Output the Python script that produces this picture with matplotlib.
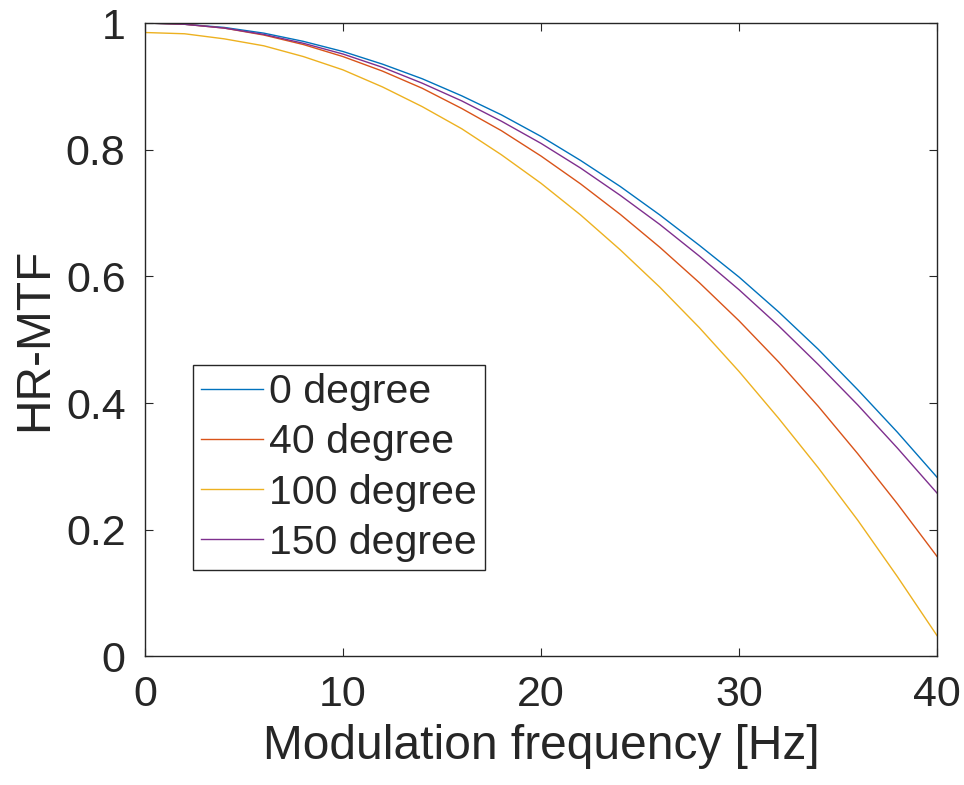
import matplotlib
matplotlib.use("Agg")
import matplotlib.pyplot as plt

plt.rcParams['font.family'] = ['Liberation Sans', 'DejaVu Sans']

freq = [0, 2, 4, 6, 8, 10, 12, 14, 16, 18, 20, 22, 24, 26, 28, 30, 32, 34, 36, 38, 40]
mtf_0 = [1.000, 0.998, 0.993, 0.984, 0.971, 0.955, 0.935, 0.912, 0.885, 0.855, 0.821,
         0.783, 0.742, 0.697, 0.649, 0.599, 0.544, 0.485, 0.421, 0.354, 0.283]
mtf_40 = [1.000, 0.998, 0.992, 0.981, 0.966, 0.947, 0.924, 0.897, 0.865, 0.830, 0.790,
          0.746, 0.698, 0.646, 0.590, 0.530, 0.465, 0.395, 0.320, 0.241, 0.158]
mtf_100 = [0.985, 0.983, 0.975, 0.964, 0.947, 0.926, 0.899, 0.868, 0.833, 0.792, 0.747,
           0.697, 0.642, 0.583, 0.519, 0.450, 0.376, 0.298, 0.215, 0.126, 0.033]
mtf_150 = [1.000, 0.998, 0.992, 0.982, 0.968, 0.951, 0.930, 0.905, 0.877, 0.845, 0.810,
           0.771, 0.728, 0.682, 0.632, 0.579, 0.522, 0.461, 0.397, 0.329, 0.258]
labels = ['0 degree', '40 degree', '100 degree', '150 degree']
colors = ['#0072BD', '#D95319', '#EDB120', '#7E2F8E']
xticks = [0, 10, 20, 30, 40]
yticks = [0, 0.2, 0.4, 0.6, 0.8, 1.0]
yticklabels = ['0', '0.2', '0.4', '0.6', '0.8', '1']

fig = plt.figure(figsize=(9.64, 7.85), dpi=100)
ax = fig.add_axes([0.1504, 0.1637, 0.8216, 0.807])

for ys, lab, c in zip([mtf_0, mtf_40, mtf_100, mtf_150], labels, colors):
    ax.plot(freq, ys, color=c, lw=1.0, label=lab)

ax.set_xlim(0, 40)
ax.set_ylim(0, 1)
ax.set_xticks(xticks)
ax.set_xticklabels([str(t) for t in xticks])
ax.set_yticks(yticks)
ax.set_yticklabels(yticklabels)
ax.tick_params(direction='in', length=6, width=0.8, top=True, right=True,
               labelsize=31, colors='#262626')
ax.tick_params(axis='x', pad=13)
ax.tick_params(axis='y', pad=14)
for s in ax.spines.values():
    s.set_color('#262626')
    s.set_linewidth(1.0)

ax.set_xlabel('Modulation frequency [Hz]', fontsize=34.5, color='#262626', labelpad=7)
ax.set_ylabel('HR-MTF', fontsize=34.5, color='#262626', labelpad=6)

leg = ax.legend(loc='lower left', bbox_to_anchor=(0.0606, 0.1365), borderaxespad=0,
                fontsize=29.5, handlelength=1.5, handletextpad=0.15, borderpad=0.2,
                labelspacing=0.3, fancybox=False, framealpha=1, edgecolor='#262626')
leg.get_frame().set_linewidth(1.0)
for t in leg.get_texts():
    t.set_color('#262626')

fig.savefig('out.png', dpi=100, facecolor='white')
